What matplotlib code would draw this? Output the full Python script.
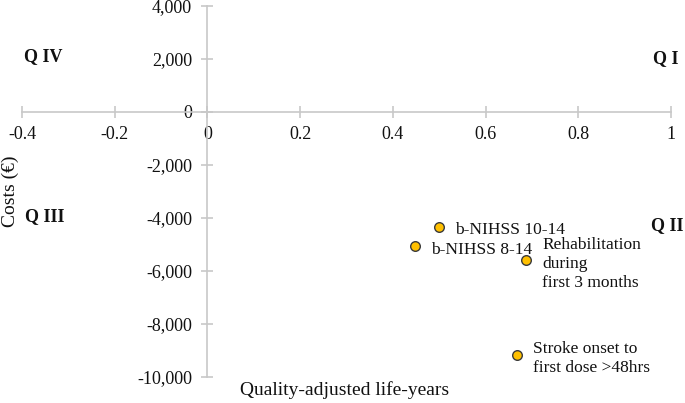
import matplotlib
matplotlib.use("Agg")
import matplotlib.pyplot as plt

plt.rcParams['font.family'] = ['Liberation Serif', 'DejaVu Serif']

labels = ["b-NIHSS 10-14", "b-NIHSS 8-14", "Rehabilitation\nduring\nfirst 3 months",
          "Stroke onset to\nfirst dose >48hrs"]
qalys = [0.50, 0.448, 0.688, 0.668]
costs = [-4340, -5060, -5600, -9160]
xticks = [-0.4, -0.2, 0, 0.2, 0.4, 0.6, 0.8, 1]
yticks = [4000, 2000, 0, -2000, -4000, -6000, -8000, -10000]

fig = plt.figure(figsize=(6.85, 4.03), dpi=100)
ax = fig.add_axes([22/685, 1 - 377/403, 649/685, 371/403])
ax.set_xlim(-0.4, 1)
ax.set_ylim(-10000, 4000)

for s in ['top', 'right']:
    ax.spines[s].set_visible(False)
ax.spines['left'].set_position(('data', 0))
ax.spines['bottom'].set_position(('data', 0))
for s in ['left', 'bottom']:
    ax.spines[s].set_color('#c8c8c8')
    ax.spines[s].set_linewidth(1.2)

ax.set_xticks(xticks)
ax.set_xticklabels([f"{t:g}" for t in xticks])
ax.set_yticks(yticks)
ax.set_yticklabels([f"{t:,}" for t in yticks])
ax.tick_params(axis='both', direction='inout', length=9, width=1.2, color='#c8c8c8',
               labelsize=13, labelcolor='#111111')
ax.tick_params(axis='x', pad=5.5)
ax.tick_params(axis='y', pad=6.5)

ax.scatter(qalys, costs, s=48, color='#FFC000', edgecolors='#3a3a3a', linewidths=1.0, zorder=5)

fs = 12.5
for x, y, lab in zip(qalys, costs, labels):
    ax.annotate(lab, (x, y), xytext=(11.5, -2.5), textcoords='offset points',
                fontsize=fs, va='center', ha='left', linespacing=1.28, color='#111111',
                annotation_clip=False)

qkw = dict(fontsize=13, fontweight='bold', textcoords='offset points', xytext=(0, -2.2),
           annotation_clip=False, color='#111111')
ax.annotate("Q IV", (-0.355, 2200), ha='center', va='center', **qkw)
ax.annotate("Q I", (1.017, 2125), ha='right', va='center', **qkw)
ax.annotate("Q III", (-0.35, -3840), ha='center', va='center', **qkw)
ax.annotate("Q II", (1.026, -4185), ha='right', va='center', **qkw)

fig.text(345/685, 1 - 390/403, "Quality-adjusted life-years", ha='center', va='center',
         fontsize=14, color='#111111')
fig.text(10/685, 1 - 191/403, "Costs (€)", rotation=90, ha='center', va='center',
         fontsize=14, color='#111111')

fig.savefig("out.png", dpi=100)
